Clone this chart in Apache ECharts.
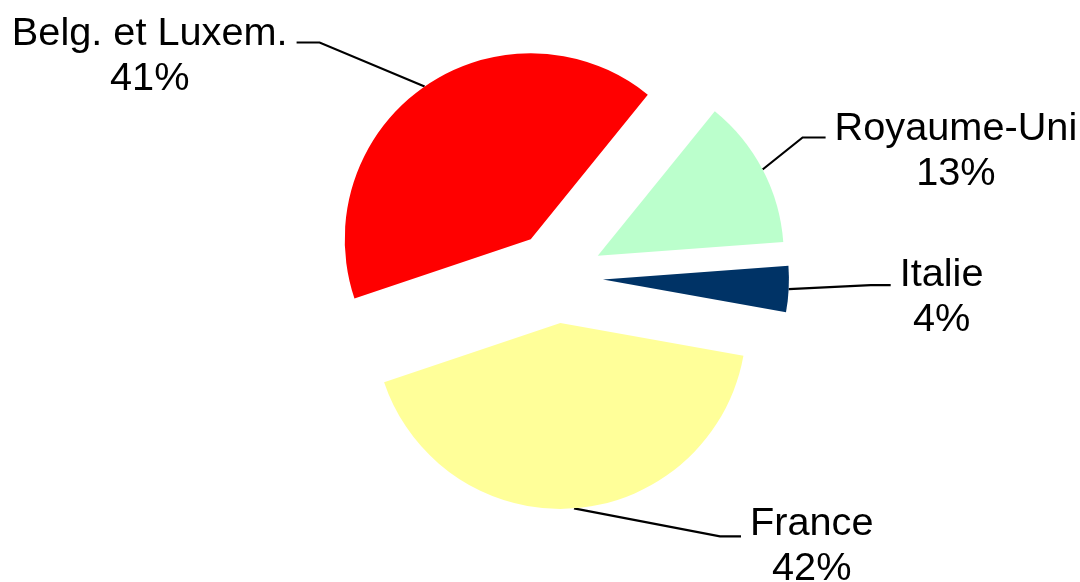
<!DOCTYPE html>
<html>
<head>
<meta charset="utf-8">
<script src="https://cdn.jsdelivr.net/npm/echarts@6/dist/echarts.min.js"></script>
<style>
  html, body { margin: 0; padding: 0; background: #ffffff; }
  #chart { width: 1080px; height: 582px; }
</style>
</head>
<body>
<div id="chart"></div>
<script>
// Share of exports by destination (percent), listed clockwise from the upper right
const categories = ['Royaume-Uni', 'Italie', 'France', 'Belg. et Luxem.'];
const shares = [13, 4, 42, 41];
const colors = ['#BBFFCC', '#003366', '#FFFF99', '#FF0000'];

// Leader line shape for each slice: elbow offset from the slice edge, a horizontal run,
// and the vertical shift of the two-line label relative to the line end
const leaders = [
  { dx: 40, dy: -32, run: 23, textDy: 14 },
  { dx: 82, dy: -4, run: 20, textDy: 12 },
  { dx: 146, dy: 28, run: 21, textDy: 10 },
  { dx: -105, dy: -44, run: 23, textDy: 14 }
];
const labelGap = 9;

// Pie geometry
const pieCenter = [557, 277];
const pieRadius = 186;
const startAngle = 51;
const explode = 46;

const chart = echarts.init(document.getElementById('chart'), null, { renderer: 'canvas' });

const total = shares.reduce((a, b) => a + b, 0);

// Each slice is drawn by its own pie series whose centre is pushed out along the slice bisector
let before = 0;
const series = categories.map((name, i) => {
  const mid = (startAngle - (before + shares[i] / 2) / total * 360) * Math.PI / 180;
  before += shares[i];
  const center = [
    pieCenter[0] + explode * Math.cos(mid),
    pieCenter[1] - explode * Math.sin(mid)
  ];
  return {
    type: 'pie',
    center: center,
    radius: pieRadius,
    startAngle: startAngle,
    clockwise: true,
    avoidLabelOverlap: false,
    silent: true,
    emphasis: { disabled: true },
    itemStyle: { borderWidth: 0 },
    data: categories.map((n, j) => ({
      name: n,
      value: shares[j],
      itemStyle: { color: j === i ? colors[j] : 'rgba(0,0,0,0)', borderWidth: 0 },
      label: { show: j === i },
      labelLine: { show: j === i }
    })),
    label: {
      position: 'outside',
      formatter: '{b}\n{d}%',
      color: '#000000',
      fontFamily: '"Liberation Sans", Arial, sans-serif',
      fontSize: 39.7,
      lineHeight: 45,
      align: 'center'
    },
    labelLine: {
      length: 20,
      length2: 20,
      lineStyle: { color: '#000000', width: 2.2 }
    },
    labelLayout: function (p) {
      if (p.dataIndex !== i || !p.labelLinePoints || !p.labelLinePoints.length) {
        return {};
      }
      const g = leaders[p.dataIndex];
      const s = p.labelLinePoints[0];
      const side = g.dx < 0 ? -1 : 1;
      const e = [s[0] + g.dx, s[1] + g.dy];
      const t = [e[0] + side * g.run, e[1]];
      return {
        labelLinePoints: [s, e, t],
        x: t[0] + side * (labelGap + p.labelRect.width / 2),
        y: t[1] + g.textDy,
        align: 'center',
        verticalAlign: 'middle'
      };
    }
  };
});

chart.setOption({
  animation: false,
  backgroundColor: '#ffffff',
  series: series
});
</script>
</body>
</html>
